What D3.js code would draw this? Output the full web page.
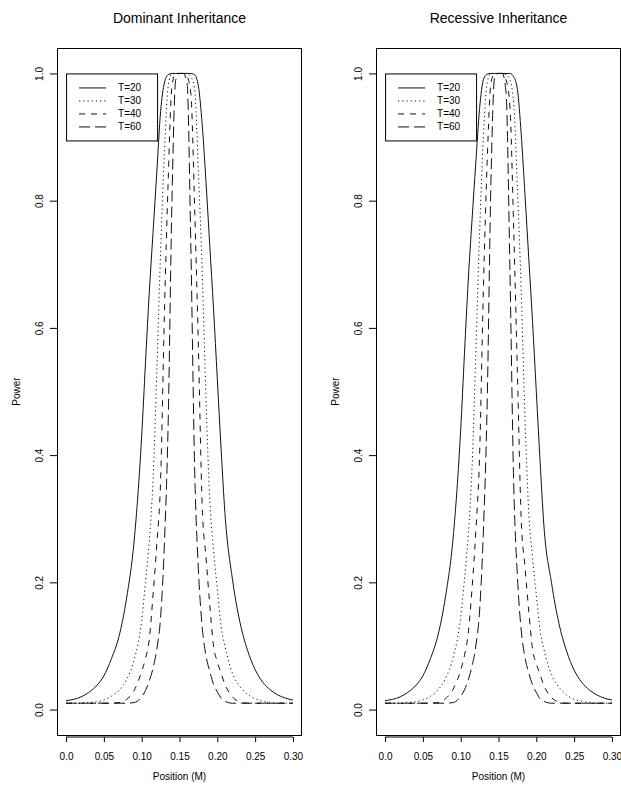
<!DOCTYPE html>
<html>
<head>
<meta charset="utf-8">
<script src="https://cdn.jsdelivr.net/npm/d3@7"></script>
<style>
  body { margin: 0; background: #fff; }
  svg { display: block; font-family: "Liberation Sans", Arial, Helvetica, sans-serif; }
</style>
</head>
<body>
<svg id="chart" width="621" height="786"></svg>
<script>
// ── data ─────────────────────────────────────────────
const positions = [0, 0.01, 0.02, 0.03, 0.04, 0.05, 0.06, 0.07, 0.08, 0.09, 0.10,
  0.105, 0.11, 0.115, 0.12, 0.125, 0.13, 0.135, 0.14, 0.145, 0.15, 0.155, 0.16,
  0.165, 0.17, 0.175, 0.18, 0.185, 0.19, 0.195, 0.20, 0.205, 0.21, 0.22, 0.23,
  0.24, 0.25, 0.26, 0.27, 0.28, 0.29, 0.30];

const seriesNames = ["T=20", "T=30", "T=40", "T=60"];

// Dominant inheritance
const domT20 = [0.014, 0.016, 0.020, 0.027, 0.037, 0.053, 0.080, 0.115, 0.175, 0.265, 0.43,
  0.545, 0.655, 0.75, 0.845, 0.94, 0.985, 0.998, 1.0, 1.0, 1.0, 1.0, 1.0,
  1.0, 0.998, 0.98, 0.92, 0.83, 0.73, 0.63, 0.52, 0.41, 0.31, 0.205, 0.137,
  0.093, 0.063, 0.043, 0.031, 0.023, 0.018, 0.015];
const domT30 = [0.010, 0.010, 0.010, 0.011, 0.012, 0.015, 0.021, 0.030, 0.047, 0.078, 0.14,
  0.20, 0.265, 0.36, 0.53, 0.72, 0.875, 0.98, 1.0, 1.0, 1.0, 1.0, 1.0,
  0.995, 0.975, 0.845, 0.69, 0.49, 0.33, 0.25, 0.19, 0.13, 0.10, 0.057, 0.036,
  0.024, 0.017, 0.013, 0.011, 0.010, 0.010, 0.010];
const domT40 = [0.010, 0.010, 0.010, 0.010, 0.010, 0.010, 0.010, 0.011, 0.016, 0.030, 0.060,
  0.080, 0.11, 0.18, 0.26, 0.36, 0.62, 0.83, 0.98, 1.0, 1.0, 1.0, 0.995,
  0.969, 0.79, 0.57, 0.32, 0.24, 0.165, 0.10, 0.075, 0.057, 0.040, 0.020, 0.012,
  0.010, 0.010, 0.010, 0.010, 0.010, 0.010, 0.010];
const domT60 = [0.010, 0.010, 0.010, 0.010, 0.010, 0.010, 0.010, 0.010, 0.010, 0.011, 0.020,
  0.030, 0.045, 0.065, 0.095, 0.145, 0.26, 0.45, 0.80, 0.99, 1.0, 1.0, 0.985,
  0.73, 0.38, 0.22, 0.13, 0.085, 0.060, 0.040, 0.028, 0.018, 0.013, 0.010, 0.010,
  0.010, 0.010, 0.010, 0.010, 0.010, 0.010, 0.010];

// Recessive inheritance
const recT20 = [0.014, 0.016, 0.020, 0.027, 0.037, 0.053, 0.080, 0.117, 0.178, 0.27, 0.44,
  0.56, 0.675, 0.77, 0.86, 0.945, 0.99, 0.999, 1.0, 1.0, 1.0, 1.0, 1.0,
  1.0, 0.995, 0.975, 0.905, 0.81, 0.71, 0.61, 0.50, 0.39, 0.29, 0.20, 0.135,
  0.092, 0.062, 0.043, 0.031, 0.023, 0.018, 0.015];
const recT30 = [0.010, 0.010, 0.010, 0.011, 0.012, 0.015, 0.021, 0.031, 0.049, 0.082, 0.145,
  0.205, 0.275, 0.38, 0.56, 0.75, 0.90, 0.985, 1.0, 1.0, 1.0, 1.0, 0.998,
  0.99, 0.955, 0.82, 0.66, 0.46, 0.31, 0.24, 0.18, 0.125, 0.095, 0.055, 0.035,
  0.023, 0.016, 0.013, 0.011, 0.010, 0.010, 0.010];
const recT40 = [0.010, 0.010, 0.010, 0.010, 0.010, 0.010, 0.010, 0.011, 0.017, 0.032, 0.062,
  0.085, 0.12, 0.19, 0.28, 0.40, 0.66, 0.86, 0.985, 1.0, 1.0, 1.0, 0.99,
  0.95, 0.76, 0.53, 0.30, 0.225, 0.155, 0.095, 0.072, 0.055, 0.038, 0.019, 0.012,
  0.010, 0.010, 0.010, 0.010, 0.010, 0.010, 0.010];
const recT60 = [0.010, 0.010, 0.010, 0.010, 0.010, 0.010, 0.010, 0.010, 0.010, 0.011, 0.021,
  0.031, 0.047, 0.068, 0.10, 0.155, 0.28, 0.48, 0.83, 0.995, 1.0, 1.0, 0.97,
  0.70, 0.36, 0.21, 0.125, 0.082, 0.058, 0.039, 0.027, 0.017, 0.013, 0.010, 0.010,
  0.010, 0.010, 0.010, 0.010, 0.010, 0.010, 0.010];

const xTicks = [0, 0.05, 0.10, 0.15, 0.20, 0.25, 0.30];
const xTickLabels = ["0.0", "0.05", "0.10", "0.15", "0.20", "0.25", "0.30"];
const yTicks = [0, 0.2, 0.4, 0.6, 0.8, 1.0];
const yTickLabels = ["0.0", "0.2", "0.4", "0.6", "0.8", "1.0"];

// ── styles ───────────────────────────────────────────
const DASH = [null, "1.2,3", "6,6", "11,5"];
const PANEL_W = 245, OFFSET = 319;
const BOX_TOP = 48, BOX_BOTTOM = 735, BOX_LEFT = 57;

const svg = d3.select("#chart");

function drawPanel(dx, title, series) {
  const g = svg.append("g").attr("transform", `translate(${dx},0)`);

  // R-style 4% extension on both axes
  const x = d3.scaleLinear().domain([-0.012, 0.312]).range([BOX_LEFT, BOX_LEFT + PANEL_W]);
  const y = d3.scaleLinear().domain([-0.04, 1.04]).range([BOX_BOTTOM, BOX_TOP]);

  // title
  g.append("text")
    .attr("x", BOX_LEFT + PANEL_W / 2).attr("y", 23)
    .attr("text-anchor", "middle").attr("font-size", 14)
    .text(title);

  // curves
  const line = d3.line()
    .x((d, i) => x(positions[i]))
    .y(d => y(d))
    .curve(d3.curveMonotoneX);

  series.forEach((vals, k) => {
    g.append("path")
      .attr("d", line(vals))
      .attr("fill", "none")
      .attr("stroke", "#111")
      .attr("stroke-width", 1)
      .attr("stroke-dasharray", DASH[k]);
  });

  // box
  g.append("rect")
    .attr("x", BOX_LEFT + 0.5).attr("y", BOX_TOP + 0.5)
    .attr("width", PANEL_W - 1).attr("height", BOX_BOTTOM - BOX_TOP)
    .attr("fill", "none").attr("stroke", "#000").attr("stroke-width", 1);

  // x axis (line only between first and last tick, like R)
  const xAxis = g.append("g").attr("transform", `translate(0,${BOX_BOTTOM + 2})`)
    .call(d3.axisBottom(x).tickValues(xTicks)
      .tickFormat((d, i) => xTickLabels[i]).tickSize(5).tickPadding(11));
  xAxis.select(".domain").remove();
  xAxis.append("line")
    .attr("x1", x(xTicks[0])).attr("x2", x(xTicks[xTicks.length - 1]))
    .attr("stroke", "#000");
  xAxis.selectAll("text").attr("font-size", 10).attr("fill", "#000")
    .attr("font-family", "Liberation Sans, Arial, sans-serif");

  // y axis
  const yAxis = g.append("g").attr("transform", `translate(${BOX_LEFT},0)`)
    .call(d3.axisLeft(y).tickValues(yTicks)
      .tickFormat((d, i) => yTickLabels[i]).tickSize(7));
  yAxis.select(".domain").remove();
  yAxis.selectAll("text")
    .attr("x", null).attr("dy", null).attr("y", 0)
    .attr("text-anchor", "middle")
    .attr("transform", "translate(-14,0) rotate(-90)")
    .attr("font-size", 10).attr("fill", "#000")
    .attr("font-family", "Liberation Sans, Arial, sans-serif");

  // axis titles
  g.append("text")
    .attr("x", BOX_LEFT + PANEL_W / 2).attr("y", 780)
    .attr("text-anchor", "middle").attr("font-size", 10)
    .text("Position (M)");
  g.append("text")
    .attr("transform", `translate(20,${(BOX_TOP + BOX_BOTTOM) / 2}) rotate(-90)`)
    .attr("text-anchor", "middle").attr("font-size", 10)
    .text("Power");

  // legend, anchored at (0, 1) in data coordinates
  const lx = x(0), ly = y(1);
  const leg = g.append("g").attr("transform", `translate(${lx},${ly})`);
  leg.append("rect")
    .attr("x", 0.5).attr("y", 0.5).attr("width", 91).attr("height", 67)
    .attr("fill", "#fff").attr("stroke", "#000");
  seriesNames.forEach((name, k) => {
    const ry = 14.5 + k * 13;
    leg.append("line")
      .attr("x1", 13).attr("x2", 40).attr("y1", ry).attr("y2", ry)
      .attr("stroke", "#111").attr("stroke-dasharray", DASH[k]);
    leg.append("text")
      .attr("x", 52).attr("y", ry + 3.5)
      .attr("font-size", 10)
      .text(name);
  });
}

drawPanel(0, "Dominant Inheritance", [domT20, domT30, domT40, domT60]);
drawPanel(OFFSET, "Recessive Inheritance", [recT20, recT30, recT40, recT60]);
</script>
</body>
</html>
